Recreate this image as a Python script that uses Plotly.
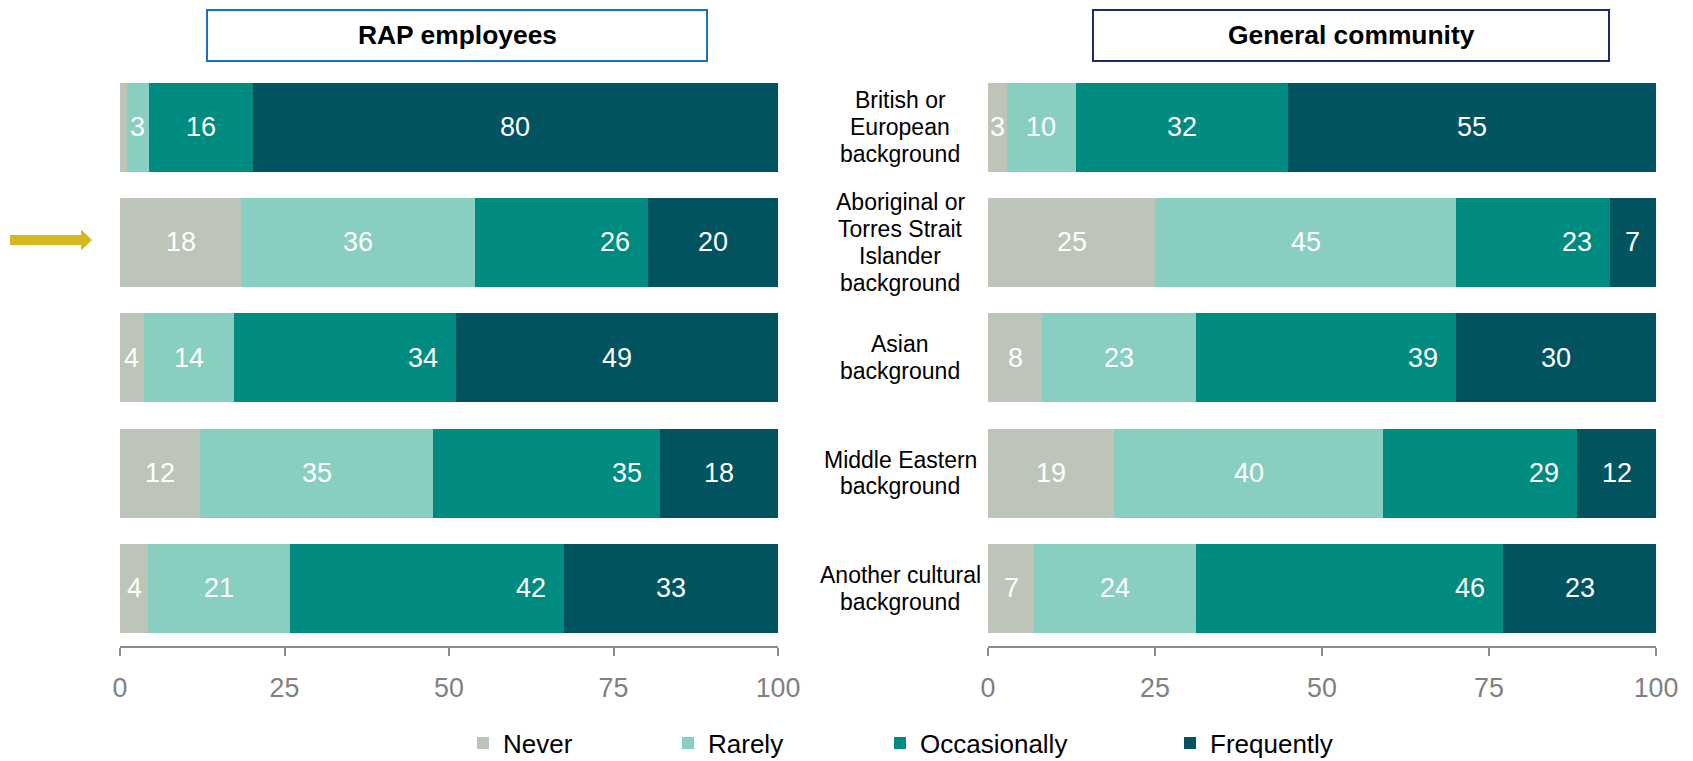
import numpy as np
import plotly.graph_objects as go

W, H = 1693, 761

categories = [
    "British or<br>European<br>background",
    "Aboriginal or<br>Torres Strait<br>Islander<br>background",
    "Asian<br>background",
    "Middle Eastern<br>background",
    "Another cultural<br>background",
]
series_names = ["Never", "Rarely", "Occasionally", "Frequently"]

# RAP employees (%)
rap_never = [1.0, 18.4, 3.6, 12.2, 4.3]
rap_rarely = [3.4, 35.6, 13.8, 35.4, 21.5]
rap_occ = [15.8, 26.3, 33.7, 34.5, 41.7]
rap_freq = [79.8, 19.7, 48.9, 17.9, 32.5]
rap_never_lbl = ["", "18", "4", "12", "4"]
rap_rarely_lbl = ["3", "36", "14", "35", "21"]
rap_occ_lbl = ["16", "26", "34", "35", "42"]
rap_freq_lbl = ["80", "20", "49", "18", "33"]

# General community (%)
gen_never = [2.9, 25.0, 8.1, 18.9, 6.9]
gen_rarely = [10.2, 45.1, 23.1, 40.2, 24.3]
gen_occ = [31.8, 23.0, 38.9, 29.1, 45.9]
gen_freq = [55.1, 6.9, 29.9, 11.8, 22.9]
gen_never_lbl = ["3", "25", "8", "19", "7"]
gen_rarely_lbl = ["10", "45", "23", "40", "24"]
gen_occ_lbl = ["32", "23", "39", "29", "46"]
gen_freq_lbl = ["55", "7", "30", "12", "23"]

x_ticks = [0, 25, 50, 75, 100]

colors = ["#bdc5b9", "#88cfc1", "#008b80", "#00535f"]
# Occasionally labels sit at the inside end of the bar except in the first row
occ_label_at_end = [False, True, True, True, True]

FONT = "Liberation Sans, Arial, sans-serif"
CAT_LINE_PITCH = 26.7

def px(x):
    return x / W

def py(y):
    return 1 - y / H

fig = go.Figure()

panels = [
    ("x", "y", [rap_never, rap_rarely, rap_occ, rap_freq],
     [rap_never_lbl, rap_rarely_lbl, rap_occ_lbl, rap_freq_lbl], True),
    ("x2", "y2", [gen_never, gen_rarely, gen_occ, gen_freq],
     [gen_never_lbl, gen_rarely_lbl, gen_occ_lbl, gen_freq_lbl], False),
]

legend_ids = ["legend", "legend2", "legend3", "legend4"]
annotations = []
for xa, ya, vals, lbls, show in panels:
    base = np.zeros(len(categories))
    for i, name in enumerate(series_names):
        v = np.array(vals[i], dtype=float)
        fig.add_trace(go.Bar(
            x=v, y=categories, base=base, orientation="h", name=name,
            marker=dict(color=colors[i], line=dict(width=0)),
            xaxis=xa, yaxis=ya, showlegend=show, legend=legend_ids[i],
            hoverinfo="skip",
        ))
        for j, cat in enumerate(categories):
            t = lbls[i][j]
            if not t:
                continue
            if i == 2 and occ_label_at_end[j]:
                ax, anchor, shift = base[j] + v[j], "right", -16
            else:
                ax, anchor, shift = base[j] + v[j] / 2, "center", 0
            annotations.append(dict(
                x=ax, y=cat, xref=xa, yref=ya, text=t, showarrow=False,
                xanchor=anchor, xshift=shift, yanchor="middle",
                font=dict(family=FONT, size=27, color="white"),
            ))
        base = base + v

# category labels between the panels (one annotation per line for tight leading)
for cat in categories:
    lines = cat.split("<br>")
    n = len(lines)
    for k, line in enumerate(lines):
        annotations.append(dict(
            x=px(900), y=cat, xref="paper", yref="y", text=line, showarrow=False,
            xanchor="center", yanchor="middle", align="center",
            yshift=-(k - (n - 1) / 2) * CAT_LINE_PITCH,
            font=dict(family=FONT, size=23, color="black"),
        ))

# panel titles
annotations.append(dict(x=px(457), y=py(35), xref="paper", yref="paper",
                        text="<b>RAP employees</b>", showarrow=False,
                        xanchor="center", yanchor="middle",
                        font=dict(family=FONT, size=26.4, color="black")))
annotations.append(dict(x=px(1351), y=py(35), xref="paper", yref="paper",
                        text="<b>General community</b>", showarrow=False,
                        xanchor="center", yanchor="middle",
                        font=dict(family=FONT, size=26.4, color="black")))

shapes = [
    dict(type="rect", xref="paper", yref="paper", x0=px(207), x1=px(707),
         y0=py(61), y1=py(10), line=dict(color="#1b72be", width=2),
         fillcolor="white", layer="below"),
    dict(type="rect", xref="paper", yref="paper", x0=px(1093), x1=px(1609),
         y0=py(61), y1=py(10), line=dict(color="#1c2a6e", width=2),
         fillcolor="white", layer="below"),
]

# highlight arrow
arrow_pts = [(10, 235), (81, 235), (81, 229.5), (92, 240), (81, 250.5), (81, 245), (10, 245)]
path = "M " + " L ".join(f"{px(a):.5f},{py(b):.5f}" for a, b in arrow_pts) + " Z"
shapes.append(dict(type="path", xref="paper", yref="paper", path=path,
                   fillcolor="#d3b820", line=dict(width=0)))

xaxis_common = dict(
    range=[0, 100], tickvals=x_ticks, showgrid=False, zeroline=False,
    showline=True, linecolor="#8c8c8c", linewidth=2,
    ticks="outside", ticklen=8, tickwidth=2, tickcolor="#8c8c8c",
    tickfont=dict(family=FONT, size=26.8, color="#808080"),
    ticklabelstandoff=9, fixedrange=True, automargin=False,
)
yaxis_common = dict(
    categoryorder="array", categoryarray=categories, range=[4.5, -0.5],
    showticklabels=False, showgrid=False, zeroline=False, showline=False,
    ticks="", fixedrange=True, automargin=False,
)

y_dom = [py(646), py(69.5)]

legend_text_x = [504, 709, 921, 1211]
legends = {}
for k, lid in enumerate(legend_ids):
    legends[lid] = dict(
        x=px(legend_text_x[k] - 41), y=py(743), xanchor="left", yanchor="middle",
        orientation="h", bgcolor="rgba(0,0,0,0)", borderwidth=0,
        font=dict(family=FONT, size=26, color="black"),
    )

fig.update_layout(
    width=W, height=H,
    margin=dict(l=0, r=0, t=0, b=0, pad=0, autoexpand=False),
    paper_bgcolor="white", plot_bgcolor="white",
    barmode="stack", bargap=0.228,
    xaxis=dict(domain=[px(120), px(778)], anchor="y", **xaxis_common),
    xaxis2=dict(domain=[px(988), px(1656)], anchor="y2", **xaxis_common),
    yaxis=dict(domain=y_dom, anchor="x", **yaxis_common),
    yaxis2=dict(domain=y_dom, anchor="x2", **yaxis_common),
    annotations=annotations, shapes=shapes,
    font=dict(family=FONT),
    **legends,
)

fig.write_html("out.html")
